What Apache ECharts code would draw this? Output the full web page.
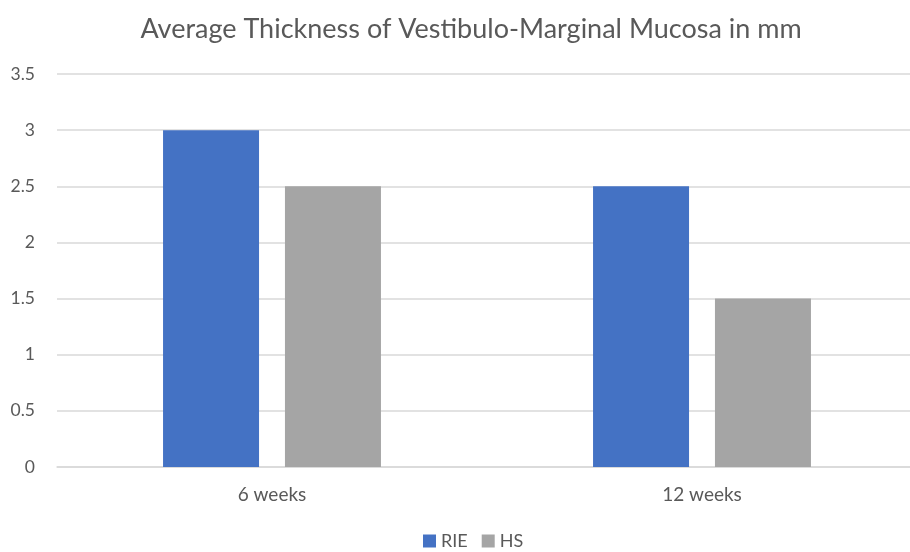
<!DOCTYPE html>
<html>
<head>
<meta charset="utf-8">
<script src="https://cdn.jsdelivr.net/npm/echarts@6/dist/echarts.min.js"></script>
<style>
  html, body { margin: 0; padding: 0; background: #fff; }
  #main { width: 910px; height: 552px; }
</style>
</head>
<body>
<div id="main"></div>
<script>
var categories = ['6 weeks', '12 weeks'];
var rieValues = [3, 2.5];
var hsValues = [2.5, 1.5];

var font = 'Lato';
var textColor = '#595959';

echarts.init(document.getElementById('main')).setOption({
    title: {
        text: 'Average Thickness of Vestibulo-Marginal Mucosa in mm',
        left: 466,
        top: 11,
        textAlign: 'center',
        textStyle: { fontFamily: font, fontSize: 27, fontWeight: 'normal', color: textColor }
    },
    legend: {
        top: 532,
        left: 423,
        padding: 0,
        itemWidth: 13,
        itemHeight: 13,
        itemGap: 14,
        icon: 'rect',
        textStyle: { fontFamily: font, fontSize: 18, color: textColor },
        data: ['RIE', 'HS']
    },
    grid: { left: 57, top: 74, width: 860, height: 393, containLabel: false, outerBoundsMode: 'none' },
    xAxis: {
        type: 'category',
        data: categories,
        axisLine: { lineStyle: { color: '#d9d9d9', width: 1.5 } },
        axisTick: { show: false },
        axisLabel: { fontFamily: font, fontSize: 19, color: textColor, margin: 18 }
    },
    yAxis: {
        type: 'value',
        min: 0,
        max: 3.5,
        interval: 0.5,
        axisLine: { show: false },
        axisTick: { show: false },
        splitLine: { lineStyle: { color: '#d9d9d9', width: 1.5 } },
        axisLabel: { fontFamily: font, fontSize: 17.5, color: textColor, margin: 22 }
    },
    series: [{
        name: 'RIE',
        type: 'bar',
        data: rieValues,
        barWidth: 96,
        barGap: '27%',
        itemStyle: { color: '#4472c4' }
    }, {
        name: 'HS',
        type: 'bar',
        data: hsValues,
        barWidth: 96,
        itemStyle: { color: '#a5a5a5' }
    }]
});
</script>
</body>
</html>
